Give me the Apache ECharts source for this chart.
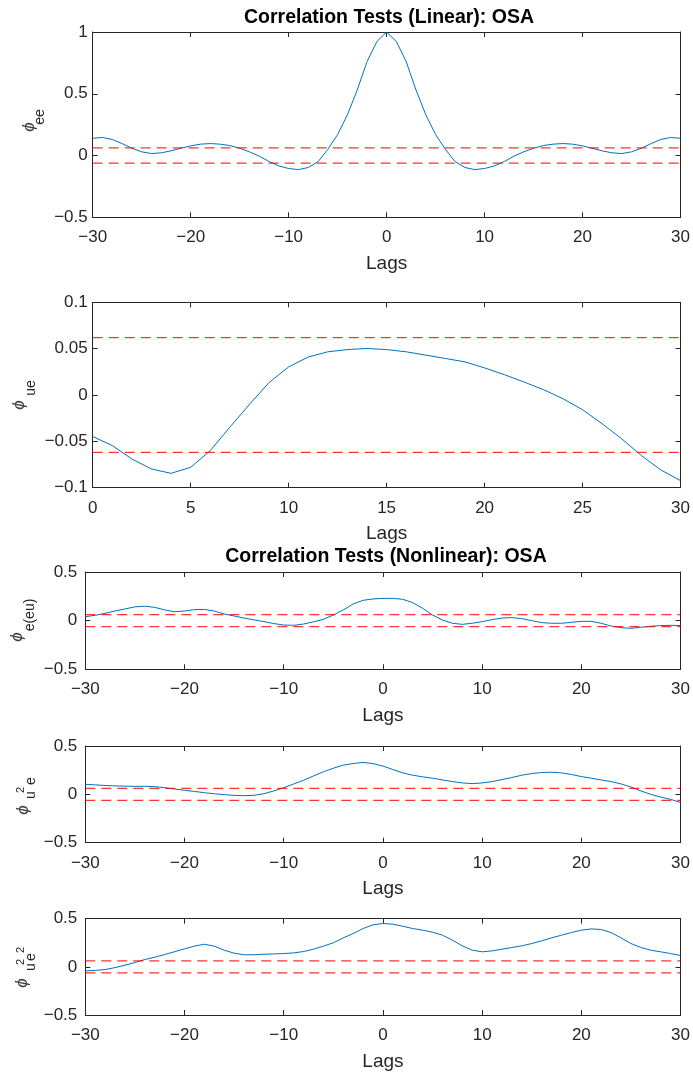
<!DOCTYPE html>
<html>
<head>
<meta charset="utf-8">
<script src="https://cdn.jsdelivr.net/npm/echarts@6/dist/echarts.min.js"></script>
<style>
html,body{margin:0;padding:0;background:#fff;}
#chart{width:693px;height:1074px;}
</style>
</head>
<body>
<div id="chart"></div>
<script>
// ---- data ----
const lagsFull = [];
for (let k = -30; k <= 30; k++) lagsFull.push(k);
const lagsPos = [];
for (let k = 0; k <= 30; k++) lagsPos.push(k);

const phiEE = [0.14,0.146,0.13,0.097,0.059,0.03,0.016,0.022,0.038,0.059,0.078,0.092,0.097,0.092,0.081,0.059,0.03,-0.005,-0.049,-0.084,-0.105,-0.114,-0.097,-0.05,0.05,0.17,0.33,0.53,0.76,0.922,
  1.0,
  0.922,0.76,0.53,0.33,0.17,0.05,-0.05,-0.097,-0.114,-0.105,-0.084,-0.049,-0.005,0.03,0.059,0.081,0.092,0.097,0.092,0.078,0.059,0.038,0.022,0.016,0.03,0.059,0.097,0.13,0.146,0.14];

const phiUE = [-0.0448,-0.0545,-0.069,-0.0798,-0.0845,-0.078,-0.06,-0.0347,-0.0101,0.0134,0.0303,0.041,0.0466,0.049,0.0502,0.049,0.0466,0.043,0.0394,0.0357,0.0292,0.022,0.0141,0.0058,-0.004,-0.0159,-0.031,-0.0473,-0.0653,-0.0809,-0.0924];

const phiEEU = [0.041,0.055,0.075,0.1,0.12,0.142,0.148,0.137,0.11,0.092,0.099,0.113,0.115,0.099,0.068,0.048,0.027,0.008,-0.01,-0.03,-0.045,-0.048,-0.035,-0.012,0.014,0.058,0.11,0.171,0.209,0.223,
  0.229,
  0.229,0.219,0.185,0.127,0.058,0.007,-0.027,-0.038,-0.027,-0.01,0.01,0.027,0.031,0.021,0,-0.02,-0.027,-0.027,-0.017,-0.007,-0.007,-0.027,-0.055,-0.072,-0.079,-0.068,-0.058,-0.051,-0.048,-0.051];

const phiU2E = [0.104,0.098,0.092,0.087,0.085,0.083,0.083,0.08,0.069,0.055,0.042,0.03,0.017,0.006,-0.003,-0.01,-0.014,-0.01,0.007,0.035,0.069,0.107,0.146,0.19,0.233,0.27,0.302,0.319,0.33,0.318,
  0.292,
  0.257,0.222,0.198,0.181,0.167,0.149,0.132,0.118,0.111,0.118,0.132,0.153,0.174,0.198,0.215,0.226,0.229,0.222,0.205,0.184,0.167,0.149,0.132,0.108,0.076,0.035,0,-0.028,-0.052,-0.083];

const phiU2E2 = [-0.042,-0.037,-0.028,-0.008,0.017,0.045,0.076,0.1,0.128,0.157,0.187,0.215,0.235,0.215,0.173,0.142,0.125,0.126,0.131,0.134,0.138,0.145,0.159,0.183,0.215,0.25,0.3,0.346,0.398,0.436,
  0.45,
  0.443,0.422,0.398,0.381,0.36,0.329,0.277,0.218,0.173,0.156,0.166,0.183,0.201,0.218,0.242,0.27,0.301,0.329,0.356,0.381,0.394,0.388,0.356,0.301,0.242,0.201,0.173,0.156,0.138,0.118];

const confBound = 0.062;
const titles = ['Correlation Tests (Linear): OSA', 'Correlation Tests (Nonlinear): OSA'];
const xLabel = 'Lags';

// ---- layout ----
const FONT = '"Liberation Sans", Arial, Helvetica, sans-serif';
const TXT = '#262626';
const panels = [
  {x: lagsFull, y: phiEE,  xmin:-30, xmax:30, xint:10, ymin:-0.5, ymax:1,   yint:0.5,  left:92.7, top:32,    h:185.3, ymargin:5},
  {x: lagsPos,  y: phiUE,  xmin:0,   xmax:30, xint:5,  ymin:-0.1, ymax:0.1, yint:0.05, left:92.7, top:302.3, h:185.4, ymargin:5},
  {x: lagsFull, y: phiEEU, xmin:-30, xmax:30, xint:10, ymin:-0.5, ymax:0.5, yint:0.5,  left:85.3, top:572,   h:97.3,  ymargin:8},
  {x: lagsFull, y: phiU2E, xmin:-30, xmax:30, xint:10, ymin:-0.5, ymax:0.5, yint:0.5,  left:85.3, top:746,   h:96.7,  ymargin:8},
  {x: lagsFull, y: phiU2E2,xmin:-30, xmax:30, xint:10, ymin:-0.5, ymax:0.5, yint:0.5,  left:85.3, top:918.7, h:96.3,  ymargin:8}
];
const RIGHT = 693 - 682.7;

function fmt(v){
  const r = Math.round(v*1000)/1000;
  return String(r).replace('-', '\u2212');
}

const grid = [], xAxis = [], yAxis = [], series = [];
const lineAxis = {show:true, onZero:false, lineStyle:{color:TXT, width:1}};
panels.forEach((p, i) => {
  grid.push({left:p.left, right:RIGHT, top:p.top, height:p.h, containLabel:false});
  xAxis.push({type:'value', gridIndex:i, min:p.xmin, max:p.xmax, interval:p.xint, position:'bottom',
    axisLine:lineAxis, axisTick:{show:true, inside:true, length:5, lineStyle:{color:TXT}},
    splitLine:{show:false},
    axisLabel:{show:true, margin:12, fontSize:17, fontFamily:FONT, color:TXT, formatter:fmt},
    name:xLabel, nameLocation:'middle', nameGap:37,
    nameTextStyle:{fontSize:19, fontFamily:FONT, color:TXT}});
  xAxis.push({type:'value', gridIndex:i, min:p.xmin, max:p.xmax, interval:p.xint, position:'top',
    axisLine:lineAxis, axisTick:{show:true, inside:true, length:5, lineStyle:{color:TXT}},
    splitLine:{show:false}, axisLabel:{show:false}});
  yAxis.push({type:'value', gridIndex:i, min:p.ymin, max:p.ymax, interval:p.yint, position:'left',
    axisLine:lineAxis, axisTick:{show:true, inside:true, length:5, lineStyle:{color:TXT}},
    splitLine:{show:false},
    axisLabel:{show:true, margin:p.ymargin, fontSize:17, fontFamily:FONT, color:TXT, formatter:fmt}});
  yAxis.push({type:'value', gridIndex:i, min:p.ymin, max:p.ymax, interval:p.yint, position:'right',
    axisLine:lineAxis, axisTick:{show:true, inside:true, length:5, lineStyle:{color:TXT}},
    splitLine:{show:false}, axisLabel:{show:false}});
  series.push({type:'line', xAxisIndex:2*i, yAxisIndex:2*i, data:p.x.map((k, j) => [k, p.y[j]]),
    showSymbol:false, symbol:'none', lineStyle:{color:'#0072BD', width:1}, z:3, animation:false});
  [confBound, -confBound].forEach(b => {
    series.push({type:'line', xAxisIndex:2*i, yAxisIndex:2*i, data:[[p.xmin, b], [p.xmax, b]],
      showSymbol:false, symbol:'none', lineStyle:{color:'rgba(255,0,0,0.8)', width:1.3, type:[10,6]}, z:4, animation:false});
  });
});

// y-axis labels (rotated TeX-like text)
function t(x, y, s, size, italic, color){
  return {type:'text', x:x, y:y, rotation:Math.PI/2, silent:true,
    style:{text:s, fontSize:size, fontFamily:FONT, fontStyle: italic ? 'italic' : 'normal',
      fill: color || TXT, align:'center', verticalAlign:'middle'}};
}
const PHI = '\u03D5';
const graphic = [
  {type:'text', x:389, y:18, silent:true, style:{text:titles[0], fontSize:19.5, fontWeight:'bold', fontFamily:FONT, fill:'#000', align:'center', verticalAlign:'middle'}},
  {type:'text', x:386, y:557, silent:true, style:{text:titles[1], fontSize:19.5, fontWeight:'bold', fontFamily:FONT, fill:'#000', align:'center', verticalAlign:'middle'}},
  // panel 1
  t(29, 127, PHI, 17, true, '#404040'), t(40, 117, 'ee', 14),
  // panel 2
  t(19, 405, PHI, 17, true, '#404040'), t(31, 388, 'ue', 14),
  // panel 3
  t(17, 637, PHI, 17, true, '#404040'), t(30, 615, 'e(eu)', 14),
  // panel 4
  t(23, 810, PHI, 17, true, '#404040'), t(31, 795, 'u', 14), t(21, 790, '2', 11), t(31, 781, 'e', 14),
  // panel 5
  t(22, 983, PHI, 17, true, '#404040'), t(31, 967, 'u', 14), t(21, 962, '2', 11), t(31, 957, 'e', 14), t(21, 950, '2', 11)
];

const chart = echarts.init(document.getElementById('chart'), null, {renderer:'canvas'});
chart.setOption({animation:false, backgroundColor:'#fff', grid, xAxis, yAxis, series, graphic});
</script>
</body>
</html>
